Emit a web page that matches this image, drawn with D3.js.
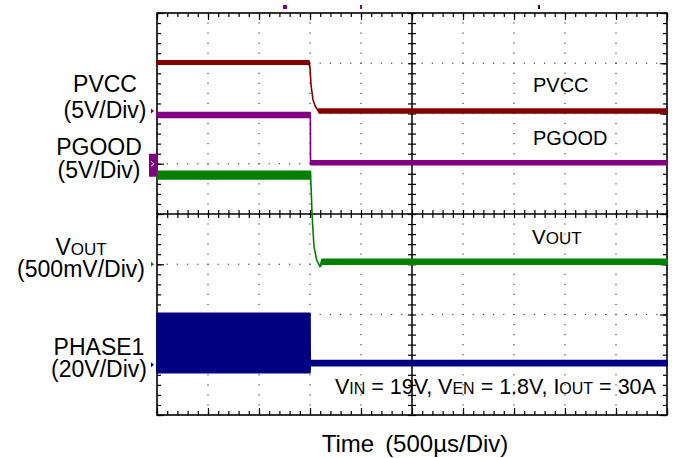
<!DOCTYPE html>
<html>
<head>
<meta charset="utf-8">
<script src="https://cdn.jsdelivr.net/npm/d3@7"></script>
<style>
body { margin: 0; background: #fff; }
text { font-family: "Liberation Sans", Arial, sans-serif; fill: #000; }
</style>
</head>
<body>
<svg id="chart" width="682" height="458"></svg>
<script>
// scope screen: 10 x 8 divisions, 500us per division
const timeDomain = [0, 5000];
const divDomain = [-4, 4];

const channels = ["PVCC", "PGOOD", "VOUT", "PHASE1"];
const voltsPerDiv = [5, 5, 0.5, 20];
const groundDiv = [2.05, 1.0, -1.0, -3.0];   // ground marker, divisions from centre
const scaleLabels = ["(5V/Div)", "(5V/Div)", "(500mV/Div)", "(20V/Div)"];

// traces as [time us, min V, max V] (envelope of the noisy trace)
const pvccTrace = [
    [0, 4.65, 5.0], [1490, 4.65, 5.0], [1500, 4.3, 4.3], [1510, 2.6, 2.6],
    [1520, 1.8, 1.8], [1530, 1.1, 1.1], [1550, 0.5, 0.5], [1575, 0.1, 0.1],
    [1590, -0.2, 0.2], [5000, -0.2, 0.2]
];
const pgoodTrace = [
    [0, 4.6, 5.1], [1500, 4.6, 5.1], [1503, 4.8, 4.8], [1505, 0.1, 0.1],
    [1510, -0.1, 0.3], [5000, -0.1, 0.3]
];
const voutTrace = [
    [0, 0.85, 0.925], [1505, 0.85, 0.925], [1508, 0.84, 0.84], [1520, 0.5, 0.5],
    [1539, 0.175, 0.175], [1566, 0.04, 0.04], [1598, -0.025, -0.025],
    [1618, 0, 0.05], [5000, 0, 0.05]
];
const phaseTrace = [
    [0, -3.2, 20.5], [1500, -3.2, 20.5], [1502, -0.4, 1.7], [5000, -0.4, 1.7]
];
const traces = [pvccTrace, pgoodTrace, voutTrace, phaseTrace];

const topMarkers = [1245, 2000, 3745];
const conditions = [["V", "IN", " = 19V, "], ["V", "EN", " = 1.8V, "], ["I", "OUT", " = 30A"]];
const timeLabel = ["Time", "(500\u00b5s/Div)"];

const colors = ["#800000", "#800080", "#008000", "#000080"];

const svg = d3.select("#chart");

const x = d3.scaleLinear().domain(timeDomain).range([157, 667]);
const y = d3.scaleLinear().domain(divDomain).range([415, 13]);
const yv = (ci, v) => y(groundDiv[ci] + v / voltsPerDiv[ci]);

const minorT = d3.range(0, 5001, 100);
const majorT = d3.range(0, 5001, 500);
const minorD = d3.range(-40, 41, 2).map(d => d / 10);
const majorD = d3.range(-4, 5, 1);

// dotted graticule
const grid = svg.append("g").attr("fill", "#444");
majorT.filter(t => t > 0 && t < 5000 && t !== 2500).forEach(t => {
    grid.selectAll(null)
        .data(minorD.filter(d => d > -4 && d < 4))
        .enter().append("rect")
        .attr("x", x(t) - 0.6).attr("y", d => y(d) - 0.6)
        .attr("width", 1.2).attr("height", 1.2);
});
majorD.filter(d => d > -4 && d < 4 && d !== 0).forEach(d => {
    grid.selectAll(null)
        .data(minorT.filter(t => t > 0 && t < 5000))
        .enter().append("rect")
        .attr("x", t => x(t) - 0.6).attr("y", y(d) - 0.6)
        .attr("width", 1.2).attr("height", 1.2);
});

// border and centre lines
svg.append("rect")
    .attr("x", x(0)).attr("y", y(4))
    .attr("width", x(5000) - x(0)).attr("height", y(-4) - y(4))
    .attr("fill", "none").attr("stroke", "#000").attr("stroke-width", 1.6);
svg.append("line")
    .attr("x1", x(0)).attr("x2", x(5000)).attr("y1", y(0)).attr("y2", y(0))
    .attr("stroke", "#000").attr("stroke-width", 1.5);
svg.append("line")
    .attr("x1", x(2500)).attr("x2", x(2500)).attr("y1", y(4)).attr("y2", y(-4))
    .attr("stroke", "#000").attr("stroke-width", 1.5);

// tick marks
function ticks(axis, tx, ty, values, size) {
    const g = svg.append("g")
        .attr("transform", `translate(${tx},${ty})`)
        .call(axis.tickValues(values).tickSize(size).tickSizeOuter(0).tickFormat(""));
    g.select(".domain").remove();
    g.selectAll("line").attr("stroke", "#000").attr("stroke-width", 1.2);
}
ticks(d3.axisBottom(x), 0, y(4), minorT, 4);
ticks(d3.axisBottom(x), 0, y(4), majorT, 7);
ticks(d3.axisTop(x), 0, y(-4), minorT, 4);
ticks(d3.axisTop(x), 0, y(-4), majorT, 7);
ticks(d3.axisRight(y), x(0), 0, minorD, 4);
ticks(d3.axisRight(y), x(0), 0, majorD, 7);
ticks(d3.axisLeft(y), x(5000), 0, minorD, 4);
ticks(d3.axisLeft(y), x(5000), 0, majorD, 7);
ticks(d3.axisTop(x), 0, y(0), minorT, 4);
ticks(d3.axisBottom(x), 0, y(0), minorT, 4);
ticks(d3.axisLeft(y), x(2500), 0, minorD, 4);
ticks(d3.axisRight(y), x(2500), 0, minorD, 4);

// traces
[3, 2, 1, 0].forEach(ci => {
    const area = d3.area()
        .x(d => x(d[0]))
        .y0(d => yv(ci, d[1]))
        .y1(d => yv(ci, d[2]));
    svg.append("path")
        .datum(traces[ci])
        .attr("d", area)
        .attr("fill", colors[ci])
        .attr("stroke", colors[ci])
        .attr("stroke-width", 1.6)
        .attr("stroke-linejoin", "round");
});

// ground markers at the left edge
channels.forEach((c, ci) => {
    const gy = yv(ci, 0);
    if (c === "PGOOD") {
        svg.append("rect")
            .attr("x", x(0) - 8).attr("y", gy - 10)
            .attr("width", 8).attr("height", 23)
            .attr("fill", colors[ci]);
        svg.append("path")
            .attr("d", `M${x(0) - 6},${gy - 2.5}L${x(0) - 3},${gy}L${x(0) - 6},${gy + 2.5}`)
            .attr("fill", "none").attr("stroke", "#fff").attr("stroke-width", 1);
    } else {
        svg.append("path")
            .attr("d", `M${x(0) - 6},${gy - 2.5}L${x(0) - 3},${gy}L${x(0) - 6},${gy + 2.5}Z`)
            .attr("fill", colors[ci]);
    }
});

// small cursor marks above the screen
svg.selectAll(".topmark")
    .data(topMarkers)
    .enter().append("rect")
    .attr("class", "topmark")
    .attr("x", d => x(d) - 1).attr("y", 5)
    .attr("width", (d, i) => i === 0 ? 4 : 2).attr("height", 4)
    .attr("fill", (d, i) => i === 2 ? "#400040" : "#800080");

// channel names on the left
const leftPos = [[105, 92, 118], [99, 155, 178], [81, 255, 277], [99, 355, 377]];
channels.forEach((c, ci) => {
    const [cx, b1, b2] = leftPos[ci];
    const t = svg.append("text")
        .attr("x", cx).attr("y", b1)
        .attr("text-anchor", "middle")
        .attr("font-size", 23);
    if (c === "VOUT") {
        t.append("tspan").text("V");
        t.append("tspan").attr("font-size", 17).text("OUT");
    } else {
        t.text(c);
    }
    svg.append("text")
        .attr("x", cx).attr("y", b2)
        .attr("text-anchor", "middle")
        .attr("font-size", 23)
        .text(scaleLabels[ci]);
});

// names on the screen
svg.append("text").attr("x", 533).attr("y", 92).attr("font-size", 20).text("PVCC");
svg.append("text").attr("x", 533).attr("y", 145).attr("font-size", 20).text("PGOOD");
const vo = svg.append("text").attr("x", 532).attr("y", 244).attr("font-size", 20.5);
vo.append("tspan").text("V");
vo.append("tspan").attr("font-size", 17).text("OUT");

const cond = svg.append("text").attr("x", 335).attr("y", 394).attr("font-size", 21.5);
conditions.forEach(([a, sub, rest]) => {
    cond.append("tspan").text(a);
    cond.append("tspan").attr("font-size", 16).text(sub);
    cond.append("tspan").text(rest);
});

const tl = svg.append("text")
    .attr("x", 415).attr("y", 452)
    .attr("text-anchor", "middle")
    .attr("font-size", 24);
tl.append("tspan").text(timeLabel[0]);
tl.append("tspan").attr("dx", 11).text(timeLabel[1]);
</script>
</body>
</html>
